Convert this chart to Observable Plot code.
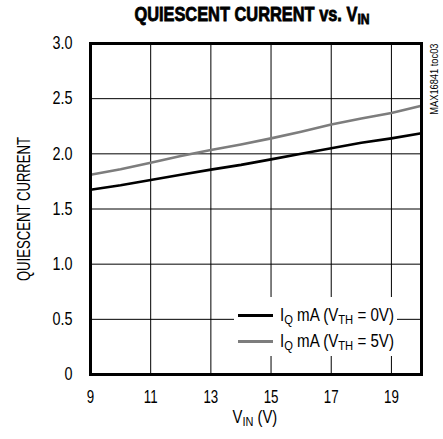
<!DOCTYPE html>
<html>
<head>
<meta charset="utf-8">
<script src="https://cdn.jsdelivr.net/npm/d3@7"></script>
<script src="https://cdn.jsdelivr.net/npm/@observablehq/plot@0.6"></script>
<style>
  body { margin: 0; background: #fff; }
  #wrap { position: relative; width: 443px; height: 439px; font-family: "Liberation Sans", Arial, sans-serif; color: #000; overflow: hidden; }
  .cond { display: inline-block; white-space: nowrap; }
  #title { height: 28px; box-sizing: border-box; padding-left: 61px; padding-top: 4px; text-align: center; font-weight: bold; font-size: 19.5px; line-height: 20px; -webkit-text-stroke: 0.8px #000; }
  #title .cond { transform: scaleX(0.84); transform-origin: center; }
  #title sub, #xlabel sub, .leg sub { font-size: 0.74em; vertical-align: -0.22em; line-height: 0; }
  #plot svg { display: block; }
  #xlabel { box-sizing: border-box; padding-left: 67px; padding-top: 0; margin-top: 0; text-align: center; font-size: 18.5px; line-height: 18px; }
  #xlabel .cond { transform: scaleX(0.8); transform-origin: center; }
  #legend { position: absolute; left: 234px; top: 297px; width: 163px; height: 59px; background: #fff; }
  .leg { position: absolute; left: 0; height: 20px; width: 163px; font-size: 18px; line-height: 20px; }
  .leg .sw { position: absolute; left: 4px; top: 8.5px; width: 35px; height: 3px; }
  .leg .tx { position: absolute; left: 46px; top: 0; transform: scaleX(0.84); transform-origin: left center; }
  svg text { font-family: "Liberation Sans", Arial, sans-serif; }
</style>
</head>
<body>
<div id="wrap">
  <div id="title"><span class="cond">QUIESCENT CURRENT vs. V<sub>IN</sub></span></div>
  <div id="plot"></div>
  <div id="xlabel"><span class="cond">V<sub>IN</sub> (V)</span></div>
  <div id="legend"></div>
</div>
<script>
// Data
const vin = [9, 10, 11, 12, 13, 14, 15, 16, 17, 18, 19, 20];
const iqVth0 = [1.675, 1.715, 1.763, 1.81, 1.857, 1.90, 1.95, 2.00, 2.05, 2.10, 2.14, 2.186];
const iqVth5 = [1.81, 1.86, 1.92, 1.98, 2.035, 2.085, 2.14, 2.20, 2.265, 2.32, 2.37, 2.435];
const xTicks = [9, 11, 13, 15, 17, 19];
const xGrid = [11, 13, 15, 17, 19];
const yTicks = [0, 0.5, 1.0, 1.5, 2.0, 2.5, 3.0];
const yGrid = [0.5, 1.0, 1.5, 2.0, 2.5];
const seriesNames = ["VTH0", "VTH5"];
const seriesColors = ["#000000", "#7d7d7d"];
const seriesLabels = ["I<sub>Q</sub> mA (V<sub>TH</sub> = 0V)", "I<sub>Q</sub> mA (V<sub>TH</sub> = 5V)"];
const yLabel = "QUIESCENT CURRENT";
const noteText = "MAX16841 toc03";

const rows0 = vin.map((v, i) => ({x: v, y: iqVth0[i], s: seriesNames[0]}));
const rows5 = vin.map((v, i) => ({x: v, y: iqVth5[i], s: seriesNames[1]}));
const yFmt = d => d === 0 ? "0" : d.toFixed(1);

const chart = Plot.plot({
  width: 443,
  height: 380,
  marginTop: 15,
  marginBottom: 34,
  marginLeft: 90,
  marginRight: 22,
  style: {background: "#fff", color: "#000"},
  x: {domain: [9, 20], label: null},
  y: {domain: [0, 3], label: null},
  marks: [
    Plot.ruleX(xGrid, {stroke: "#000", strokeWidth: 1}),
    Plot.ruleY(yGrid, {stroke: "#000", strokeWidth: 1}),
    Plot.line(rows5, {x: "x", y: "y", stroke: seriesColors[1], strokeWidth: 2.6}),
    Plot.line(rows0, {x: "x", y: "y", stroke: seriesColors[0], strokeWidth: 2.6}),
    Plot.frame({stroke: "#000", strokeWidth: 3}),
    Plot.axisX({ticks: xTicks, tickSize: 0, tickPadding: 16, label: null, fontSize: 18}),
    Plot.axisY({ticks: yTicks, tickSize: 0, tickPadding: 18, fontSize: 18, tickFormat: yFmt,
      label: yLabel, labelAnchor: "center", labelArrow: "none", labelOffset: 73}),
    Plot.text([noteText], {frameAnchor: "top-right", dx: 9, rotate: -90, textAnchor: "end", fontSize: 10, fill: "#000"})
  ]
});

// horizontal condensing of SVG text (font styling only; position untouched)
function condense(root, selector, s) {
  root.querySelectorAll(selector).forEach(t => {
    const tr = t.getAttribute("transform") || "";
    t.setAttribute("transform", (tr + ` scale(${s},1)`).trim());
  });
}
condense(chart, 'g[aria-label="x-axis tick label"] text', 0.74);
condense(chart, 'g[aria-label="y-axis tick label"] text', 0.8);
condense(chart, 'g[aria-label="y-axis label"] text', 0.73);
condense(chart, 'g[aria-label="text"] text', 0.93);

document.getElementById("plot").appendChild(chart);

const legend = document.getElementById("legend");
seriesLabels.forEach((lab, i) => {
  const row = document.createElement("div");
  row.className = "leg";
  row.style.top = (i === 0 ? 8 : 34) + "px";
  row.innerHTML = `<div class="sw" style="background:${seriesColors[i]}"></div><div class="tx cond">${lab}</div>`;
  legend.appendChild(row);
});
</script>
</body>
</html>
